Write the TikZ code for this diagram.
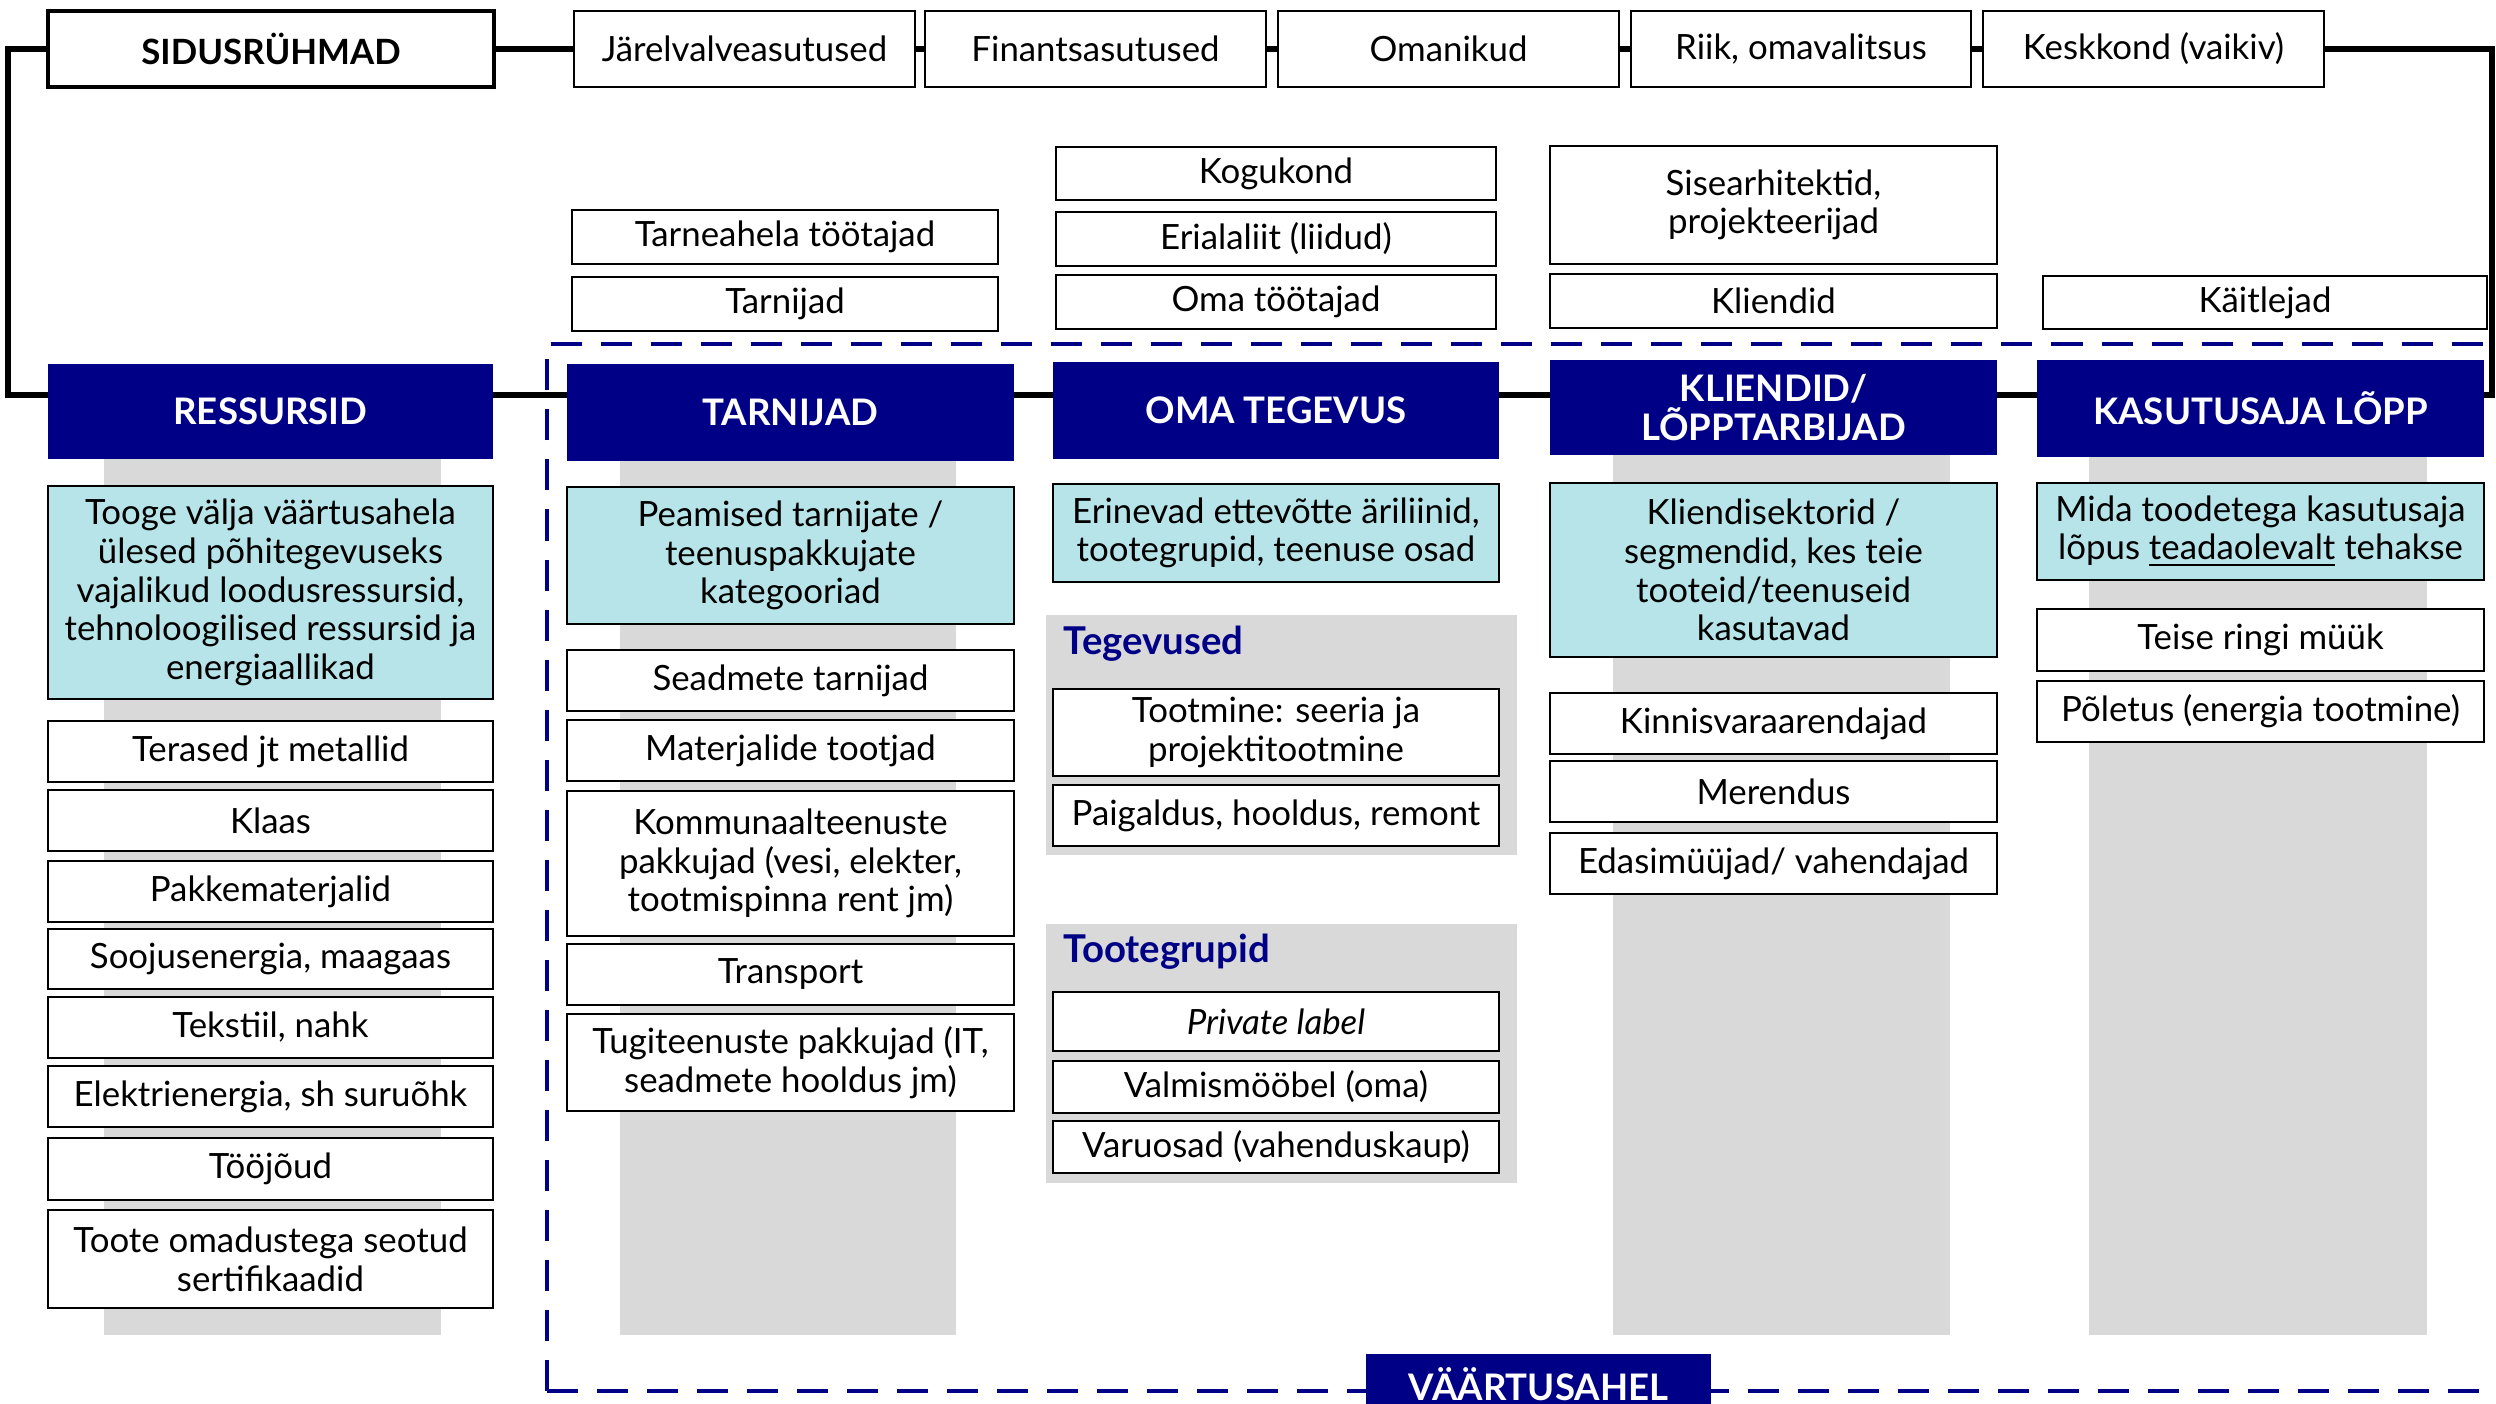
\documentclass[tikz,border=0pt]{standalone}
\usepackage{fontspec}
\setmainfont{Lato}
\usetikzlibrary{backgrounds}
\definecolor{navy}{RGB}{0,0,135}
\definecolor{lblue}{RGB}{183,228,232}
\definecolor{lgray}{RGB}{217,217,217}
\tikzset{
  basebox/.style={inner sep=0pt, outer sep=0pt, align=center, font=\fontsize{9.9}{11}\selectfont},
  wbox/.style={basebox, draw=black, line width=0.8pt, fill=white},
  bbox/.style={wbox, fill=lblue},
  hdbox/.style={basebox, fill=navy, text=white, font=\bfseries\fontsize{10.4}{10.9}\selectfont},
  sidbox/.style={wbox, line width=0.95pt, font=\bfseries\fontsize{9.9}{11}\selectfont},
  connline/.style={line width=1.45pt, black},
  chainline/.style={draw=navy, line width=1.1pt, dash pattern=on 0.31cm off 0.19cm},
  graypanel/.style={fill=lgray},
  grouplabel/.style={inner sep=0pt, anchor=west, text=navy, font=\bfseries\fontsize{10.9}{12}\selectfont},
}
% name, style, x1, y1, x2, y2, text
\newcommand{\bx}[7]{\node[#2, minimum width={(#5-#3)*0.01cm}, minimum height={(#6-#4)*0.01cm}] (#1) at ({(#3+#5)/2},{(#4+#6)/2}) {#7};}
\begin{document}
\begin{tikzpicture}[x=0.01cm, y=-0.01cm]
\useasboundingbox (0,0) rectangle (2496,1404);

% grey backdrops, panels and dashed value-chain frame
\begin{scope}[on background layer]
  \fill[graypanel] (104,459) rectangle (441,1335);
  \fill[graypanel] (620,461) rectangle (956,1335);
  \fill[graypanel] (1613,455) rectangle (1950,1335);
  \fill[graypanel] (2089,457) rectangle (2427,1335);
  \fill[graypanel] (1046,615) rectangle (1517,855);
  \fill[graypanel] (1046,924) rectangle (1517,1183);
  \draw[chainline] (547,1391) -- (547,344) -- (2540,344);
  \draw[chainline] (547,1391) -- (2540,1391);
\end{scope}

% stakeholders row
\bx{sid}{sidbox}{48}{11}{494}{87}{SIDUSRÜHMAD}
\bx{jar}{wbox}{574}{11}{915}{87}{Järelvalveasutused}
\bx{fin}{wbox}{925}{11}{1266}{87}{Finantsasutused}
\bx{oma}{wbox}{1278}{11}{1619}{87}{Omanikud}
\bx{riik}{wbox}{1631}{11}{1971}{87}{Riik, omavalitsus}
\bx{kes}{wbox}{1983}{11}{2324}{87}{Keskkond (vaikiv)}

\bx{tat}{wbox}{572}{210}{998}{264}{Tarneahela töötajad}
\bx{tarn}{wbox}{572}{277}{998}{331}{Tarnijad}
\bx{kog}{wbox}{1056}{147}{1496}{200}{Kogukond}
\bx{eri}{wbox}{1056}{212}{1496}{266}{Erialaliit (liidud)}
\bx{omat}{wbox}{1056}{275}{1496}{329}{Oma töötajad}
\bx{sis}{wbox}{1550}{146}{1997}{264}{Sisearhitektid,\\projekteerijad}
\bx{kli}{wbox}{1550}{274}{1997}{328}{Kliendid}
\bx{kait}{wbox}{2043}{276}{2487}{329}{Käitlejad}

% column headers
\bx{h1}{hdbox}{48}{364}{493}{459}{RESSURSID}
\bx{h2}{hdbox}{567}{364}{1014}{461}{TARNIJAD}
\bx{h3}{hdbox}{1053}{362}{1499}{459}{OMA TEGEVUS}
\bx{h4}{hdbox}{1550}{360}{1997}{455}{KLIENDID/\\LÕPPTARBIJAD}
\bx{h5}{hdbox}{2037}{360}{2484}{457}{KASUTUSAJA LÕPP}

% column 1
\bx{r0}{bbox}{48}{486}{493}{699}{Tooge välja väärtusahela\\ülesed põhitegevuseks\\vajalikud loodusressursid,\\tehnoloogilised ressursid ja\\energiaallikad}
\bx{r1}{wbox}{48}{721}{493}{782}{Terased jt metallid}
\bx{r2}{wbox}{48}{790}{493}{851}{Klaas}
\bx{r3}{wbox}{48}{861}{493}{922}{Pakkematerjalid}
\bx{r4}{wbox}{48}{929}{493}{989}{Soojusenergia, maagaas}
\bx{r5}{wbox}{48}{997}{493}{1058}{Tekstiil, nahk}
\bx{r6}{wbox}{48}{1066}{493}{1127}{Elektrienergia, sh suruõhk}
\bx{r7}{wbox}{48}{1138}{493}{1200}{Tööjõud}
\bx{r8}{wbox}{48}{1210}{493}{1308}{Toote omadustega seotud\\sertifikaadid}

% column 2
\bx{t0}{bbox}{567}{487}{1014}{624}{Peamised tarnijate /\\teenuspakkujate\\kategooriad}
\bx{t1}{wbox}{567}{650}{1014}{711}{Seadmete tarnijad}
\bx{t2}{wbox}{567}{720}{1014}{781}{Materjalide tootjad}
\bx{t3}{wbox}{567}{791}{1014}{936}{Kommunaalteenuste\\pakkujad (vesi, elekter,\\tootmispinna rent jm)}
\bx{t4}{wbox}{567}{944}{1014}{1005}{Transport}
\bx{t5}{wbox}{567}{1014}{1014}{1111}{Tugiteenuste pakkujad (IT,\\seadmete hooldus jm)}

% column 3
\bx{o0}{bbox}{1053}{484}{1499}{582}{Erinevad ettevõtte äriliinid,\\tootegrupid, teenuse osad}
\node[grouplabel] (teg) at (1063,644) {Tegevused};
\bx{o1}{wbox}{1053}{689}{1499}{776}{Tootmine: seeria ja\\projektitootmine}
\bx{o2}{wbox}{1053}{785}{1499}{846}{Paigaldus, hooldus, remont}
\node[grouplabel] (tgr) at (1063,952) {Tootegrupid};
\bx{o3}{wbox}{1053}{992}{1499}{1051}{\textit{Private label}}
\bx{o4}{wbox}{1053}{1061}{1499}{1113}{Valmismööbel (oma)}
\bx{o5}{wbox}{1053}{1121}{1499}{1173}{Varuosad (vahenduskaup)}

% column 4
\bx{k0}{bbox}{1550}{483}{1997}{657}{Kliendisektorid /\\segmendid, kes teie\\tooteid/teenuseid\\kasutavad}
\bx{k1}{wbox}{1550}{693}{1997}{754}{Kinnisvaraarendajad}
\bx{k2}{wbox}{1550}{761}{1997}{822}{Merendus}
\bx{k3}{wbox}{1550}{833}{1997}{894}{Edasimüüjad/ vahendajad}

% column 5
\bx{e0}{bbox}{2037}{483}{2484}{580}{Mida toodetega kasutusaja\\lõpus \underline{teadaolevalt} tehakse}
\bx{e1}{wbox}{2037}{609}{2484}{671}{Teise ringi müük}
\bx{e2}{wbox}{2037}{681}{2484}{742}{Põletus (energia tootmine)}

% value chain label
\bx{vc}{hdbox}{1366}{1354}{1711}{1414}{VÄÄRTUSAHEL}

% connectors
\coordinate (ltop) at (8,49);
\coordinate (lbot) at (8,395);
\coordinate (rbot) at (2492,395);
\coordinate (rtop) at (2492,49);
\begin{scope}[on background layer]
  \draw[connline] (sid.west) -- (ltop) -- (lbot) -- (rbot) -- (rtop) -- (kes.east);
  \draw[connline] (sid.east) -- (jar.west);
  \draw[connline] (jar.east) -- (fin.west);
  \draw[connline] (fin.east) -- (oma.west);
  \draw[connline] (oma.east) -- (riik.west);
  \draw[connline] (riik.east) -- (kes.west);
\end{scope}
\end{tikzpicture}
\end{document}
